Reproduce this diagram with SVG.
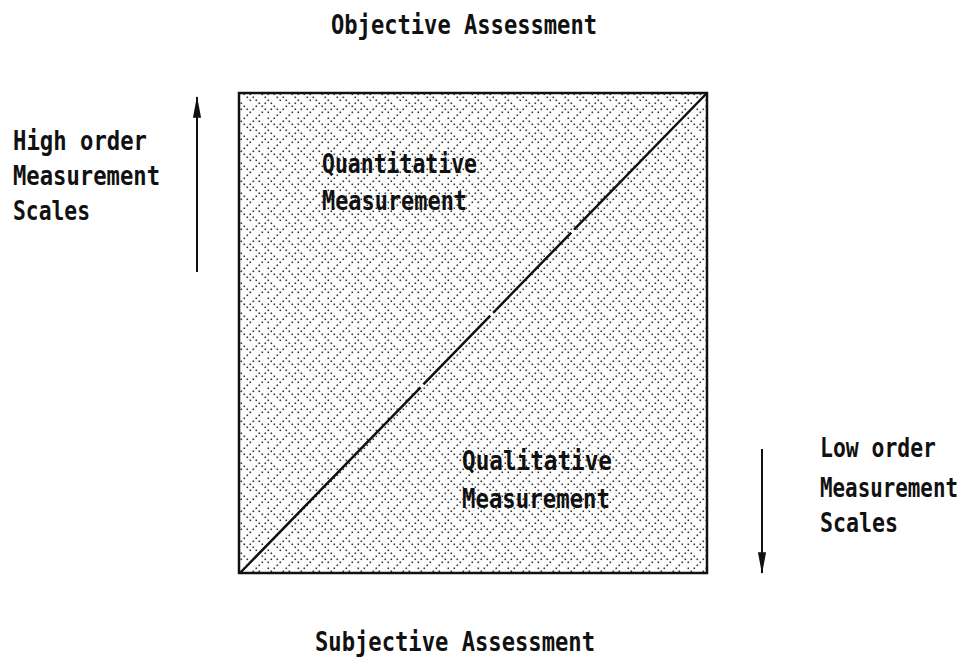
<svg xmlns="http://www.w3.org/2000/svg" width="969" height="658" viewBox="0 0 969 658">
<style>
.t{font-family:"DejaVu Sans Mono","Liberation Mono",monospace;font-size:26px;font-weight:bold;fill:#111}
.d{fill:#333}
.edge{stroke:#111;stroke-width:2.5;fill:none}
</style>
<defs>
<pattern id="stip" width="30" height="30" patternUnits="userSpaceOnUse">
<rect class="d" x="0.5" y="0.5" width="1.6" height="1.6"/><rect class="d" x="12.5" y="0.5" width="1.6" height="1.6"/><rect class="d" x="18.5" y="0.5" width="1.6" height="1.6"/>
<rect class="d" x="3.5" y="3.5" width="1.6" height="1.6"/><rect class="d" x="9.5" y="3.5" width="1.6" height="1.6"/><rect class="d" x="21.5" y="3.5" width="1.6" height="1.6"/><rect class="d" x="27.5" y="3.5" width="1.6" height="1.6"/>
<rect class="d" x="6.5" y="6.5" width="1.6" height="1.6"/><rect class="d" x="12.5" y="6.5" width="1.6" height="1.6"/><rect class="d" x="24.5" y="6.5" width="1.6" height="1.6"/>
<rect class="d" x="9.5" y="9.5" width="1.6" height="1.6"/><rect class="d" x="15.5" y="9.5" width="1.6" height="1.6"/><rect class="d" x="27.5" y="9.5" width="1.6" height="1.6"/>
<rect class="d" x="0.5" y="12.5" width="1.6" height="1.6"/><rect class="d" x="18.5" y="12.5" width="1.6" height="1.6"/><rect class="d" x="24.5" y="12.5" width="1.6" height="1.6"/>
<rect class="d" x="3.5" y="15.5" width="1.6" height="1.6"/><rect class="d" x="15.5" y="15.5" width="1.6" height="1.6"/><rect class="d" x="21.5" y="15.5" width="1.6" height="1.6"/>
<rect class="d" x="0.5" y="18.5" width="1.6" height="1.6"/><rect class="d" x="6.5" y="18.5" width="1.6" height="1.6"/><rect class="d" x="12.5" y="18.5" width="1.6" height="1.6"/><rect class="d" x="24.5" y="18.5" width="1.6" height="1.6"/>
<rect class="d" x="9.5" y="21.5" width="1.6" height="1.6"/><rect class="d" x="21.5" y="21.5" width="1.6" height="1.6"/><rect class="d" x="27.5" y="21.5" width="1.6" height="1.6"/>
<rect class="d" x="6.5" y="24.5" width="1.6" height="1.6"/><rect class="d" x="18.5" y="24.5" width="1.6" height="1.6"/>
<rect class="d" x="3.5" y="27.5" width="1.6" height="1.6"/><rect class="d" x="15.5" y="27.5" width="1.6" height="1.6"/><rect class="d" x="27.5" y="27.5" width="1.6" height="1.6"/>
</pattern>
<marker id="ah2" viewBox="0 0 24 10" refX="23" refY="5" markerWidth="24" markerHeight="9" markerUnits="userSpaceOnUse" orient="auto">
<path d="M0,0.5 L24,5 L0,9.5 Z" fill="#111"/>
</marker>
</defs>
<rect width="969" height="658" fill="#fff"/>

<g id="square">
<rect x="239" y="93" width="468" height="480" fill="url(#stip)"/>
<rect x="239" y="93" width="468" height="480" class="edge"/>
</g>

<g id="connectors">
<line x1="240" y1="573" x2="707" y2="93" stroke="#111" stroke-width="2.5" stroke-dasharray="259 4 96 4 112 4 400"/>
<line x1="197" y1="272" x2="197" y2="97" stroke="#111" stroke-width="2" marker-end="url(#ah2)"/>
<line x1="762" y1="449" x2="762" y2="573" stroke="#111" stroke-width="2" marker-end="url(#ah2)"/>
</g>

<g id="objective"><text class="t" x="331" y="34" textLength="266" lengthAdjust="spacingAndGlyphs">Objective Assessment</text></g>
<g id="subjective"><text class="t" x="315" y="651" textLength="280" lengthAdjust="spacingAndGlyphs">Subjective Assessment</text></g>

<g id="high-order">
<text class="t" x="13" y="150" textLength="134" lengthAdjust="spacingAndGlyphs">High order</text>
<text class="t" x="13" y="185" textLength="147" lengthAdjust="spacingAndGlyphs">Measurement</text>
<text class="t" x="13" y="220" textLength="77" lengthAdjust="spacingAndGlyphs">Scales</text>
</g>

<g id="low-order">
<text class="t" x="820" y="457" textLength="116" lengthAdjust="spacingAndGlyphs">Low order</text>
<text class="t" x="820" y="414.2" transform="scale(1 1.2)" style="font-size:21.5px" textLength="138" lengthAdjust="spacingAndGlyphs">Measurement</text>
<text class="t" x="820" y="532" textLength="78" lengthAdjust="spacingAndGlyphs">Scales</text>
</g>

<g id="quantitative">
<text class="t" x="322" y="173" textLength="155" lengthAdjust="spacingAndGlyphs">Quantitative</text>
<text class="t" x="322" y="210" textLength="145" lengthAdjust="spacingAndGlyphs">Measurement</text>
</g>

<g id="qualitative">
<text class="t" x="462" y="470" textLength="150" lengthAdjust="spacingAndGlyphs">Qualitative</text>
<text class="t" x="462" y="508" textLength="148" lengthAdjust="spacingAndGlyphs">Measurement</text>
</g>
</svg>
